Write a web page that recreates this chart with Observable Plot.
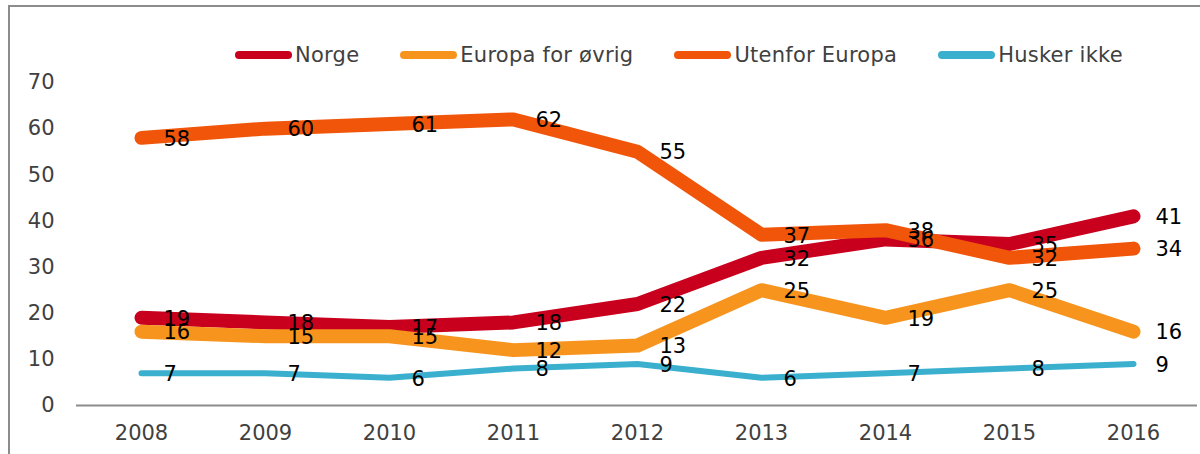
<!DOCTYPE html>
<html>
<head>
<meta charset="utf-8">
<script src="https://cdn.jsdelivr.net/npm/d3@7"></script>
<script src="https://cdn.jsdelivr.net/npm/@observablehq/plot@0.6"></script>
<style>
  html, body { margin: 0; padding: 0; background: #fff; }
  body { width: 1200px; height: 454px; overflow: hidden; position: relative; font-family: "DejaVu Sans", Verdana, sans-serif; }
  #frame { position: absolute; left: 8px; top: 5px; width: 1300px; height: 600px; border: 2px solid #8c8c8c; box-sizing: border-box; }
  #chart { position: absolute; left: 0; top: 0; }
  #legend { position: absolute; left: 235px; top: 43px; display: flex; align-items: center; font-size: 21px; letter-spacing: 0.25px; color: #404040; white-space: nowrap; }
  .item { display: flex; align-items: center; margin-right: 41px; }
  .sw { width: 57px; height: 8px; border-radius: 4px; margin-right: 3px; }
</style>
</head>
<body>
<div id="frame"></div>
<div id="chart"></div>
<div id="legend"></div>
<script>
const years = ["2008","2009","2010","2011","2012","2013","2014","2015","2016"];
const seriesNames = ["Norge", "Europa for øvrig", "Utenfor Europa", "Husker ikke"];
const norge   = [19, 18, 17, 18, 22, 32, 36, 35, 41];
const europa  = [16, 15, 15, 12, 13, 25, 19, 25, 16];
const utenfor = [58, 60, 61, 62, 55, 37, 38, 32, 34];
const husker  = [7, 7, 6, 8, 9, 6, 7, 8, 9];
const yTicks = [0, 10, 20, 30, 40, 50, 60, 70];
const colors = ["#c8001e", "#f7941e", "#f0550a", "#3bb0ce"];
const widths = [14, 14, 14, 6];

const values = [norge, europa, utenfor, husker];
const data = [];
seriesNames.forEach((s, i) => years.forEach((y, j) => data.push({series: s, year: y, value: values[i][j]})));

const lineMarks = seriesNames.map((s, i) =>
  Plot.line(data.filter(d => d.series === s), {
    x: "year", y: "value", stroke: colors[i], strokeWidth: widths[i],
    strokeLinecap: "round", strokeLinejoin: "round"
  })
);

const chart = Plot.plot({
  width: 1200,
  height: 454,
  marginLeft: 76,
  marginRight: 3,
  marginTop: 82,
  marginBottom: 49,
  style: { fontFamily: "DejaVu Sans, Verdana, sans-serif", fontSize: "21px", background: "transparent", overflow: "visible" },
  x: { type: "point", domain: years, padding: 0.5, label: null },
  y: { domain: [0, 70], label: null },
  marks: [
    Plot.axisY({ ticks: yTicks, tickSize: 0, tickPadding: 22, fill: "#404040", fontSize: 21 }),
    Plot.axisX({ tickSize: 0, tickPadding: 20, fill: "#404040", fontSize: 21 }),
    Plot.ruleY([0], { stroke: "#8c8c8c", strokeWidth: 2 }),
    Plot.ruleX([0], { x: () => null, stroke: "#8c8c8c", strokeWidth: 2, frameAnchor: "left" }),
    ...lineMarks,
    Plot.text(data, {
      x: "year", y: "value", text: d => String(d.value),
      textAnchor: "start", dx: 22, dy: 1, fill: "#000", fontSize: 21, lineAnchor: "middle"
    })
  ]
});
document.getElementById("chart").appendChild(chart);

const legend = document.getElementById("legend");
seriesNames.forEach((s, i) => {
  const it = document.createElement("div");
  it.className = "item";
  const sw = document.createElement("div");
  sw.className = "sw";
  sw.style.background = colors[i];
  const t = document.createElement("span");
  t.textContent = s;
  it.appendChild(sw); it.appendChild(t);
  legend.appendChild(it);
});
</script>
</body>
</html>
